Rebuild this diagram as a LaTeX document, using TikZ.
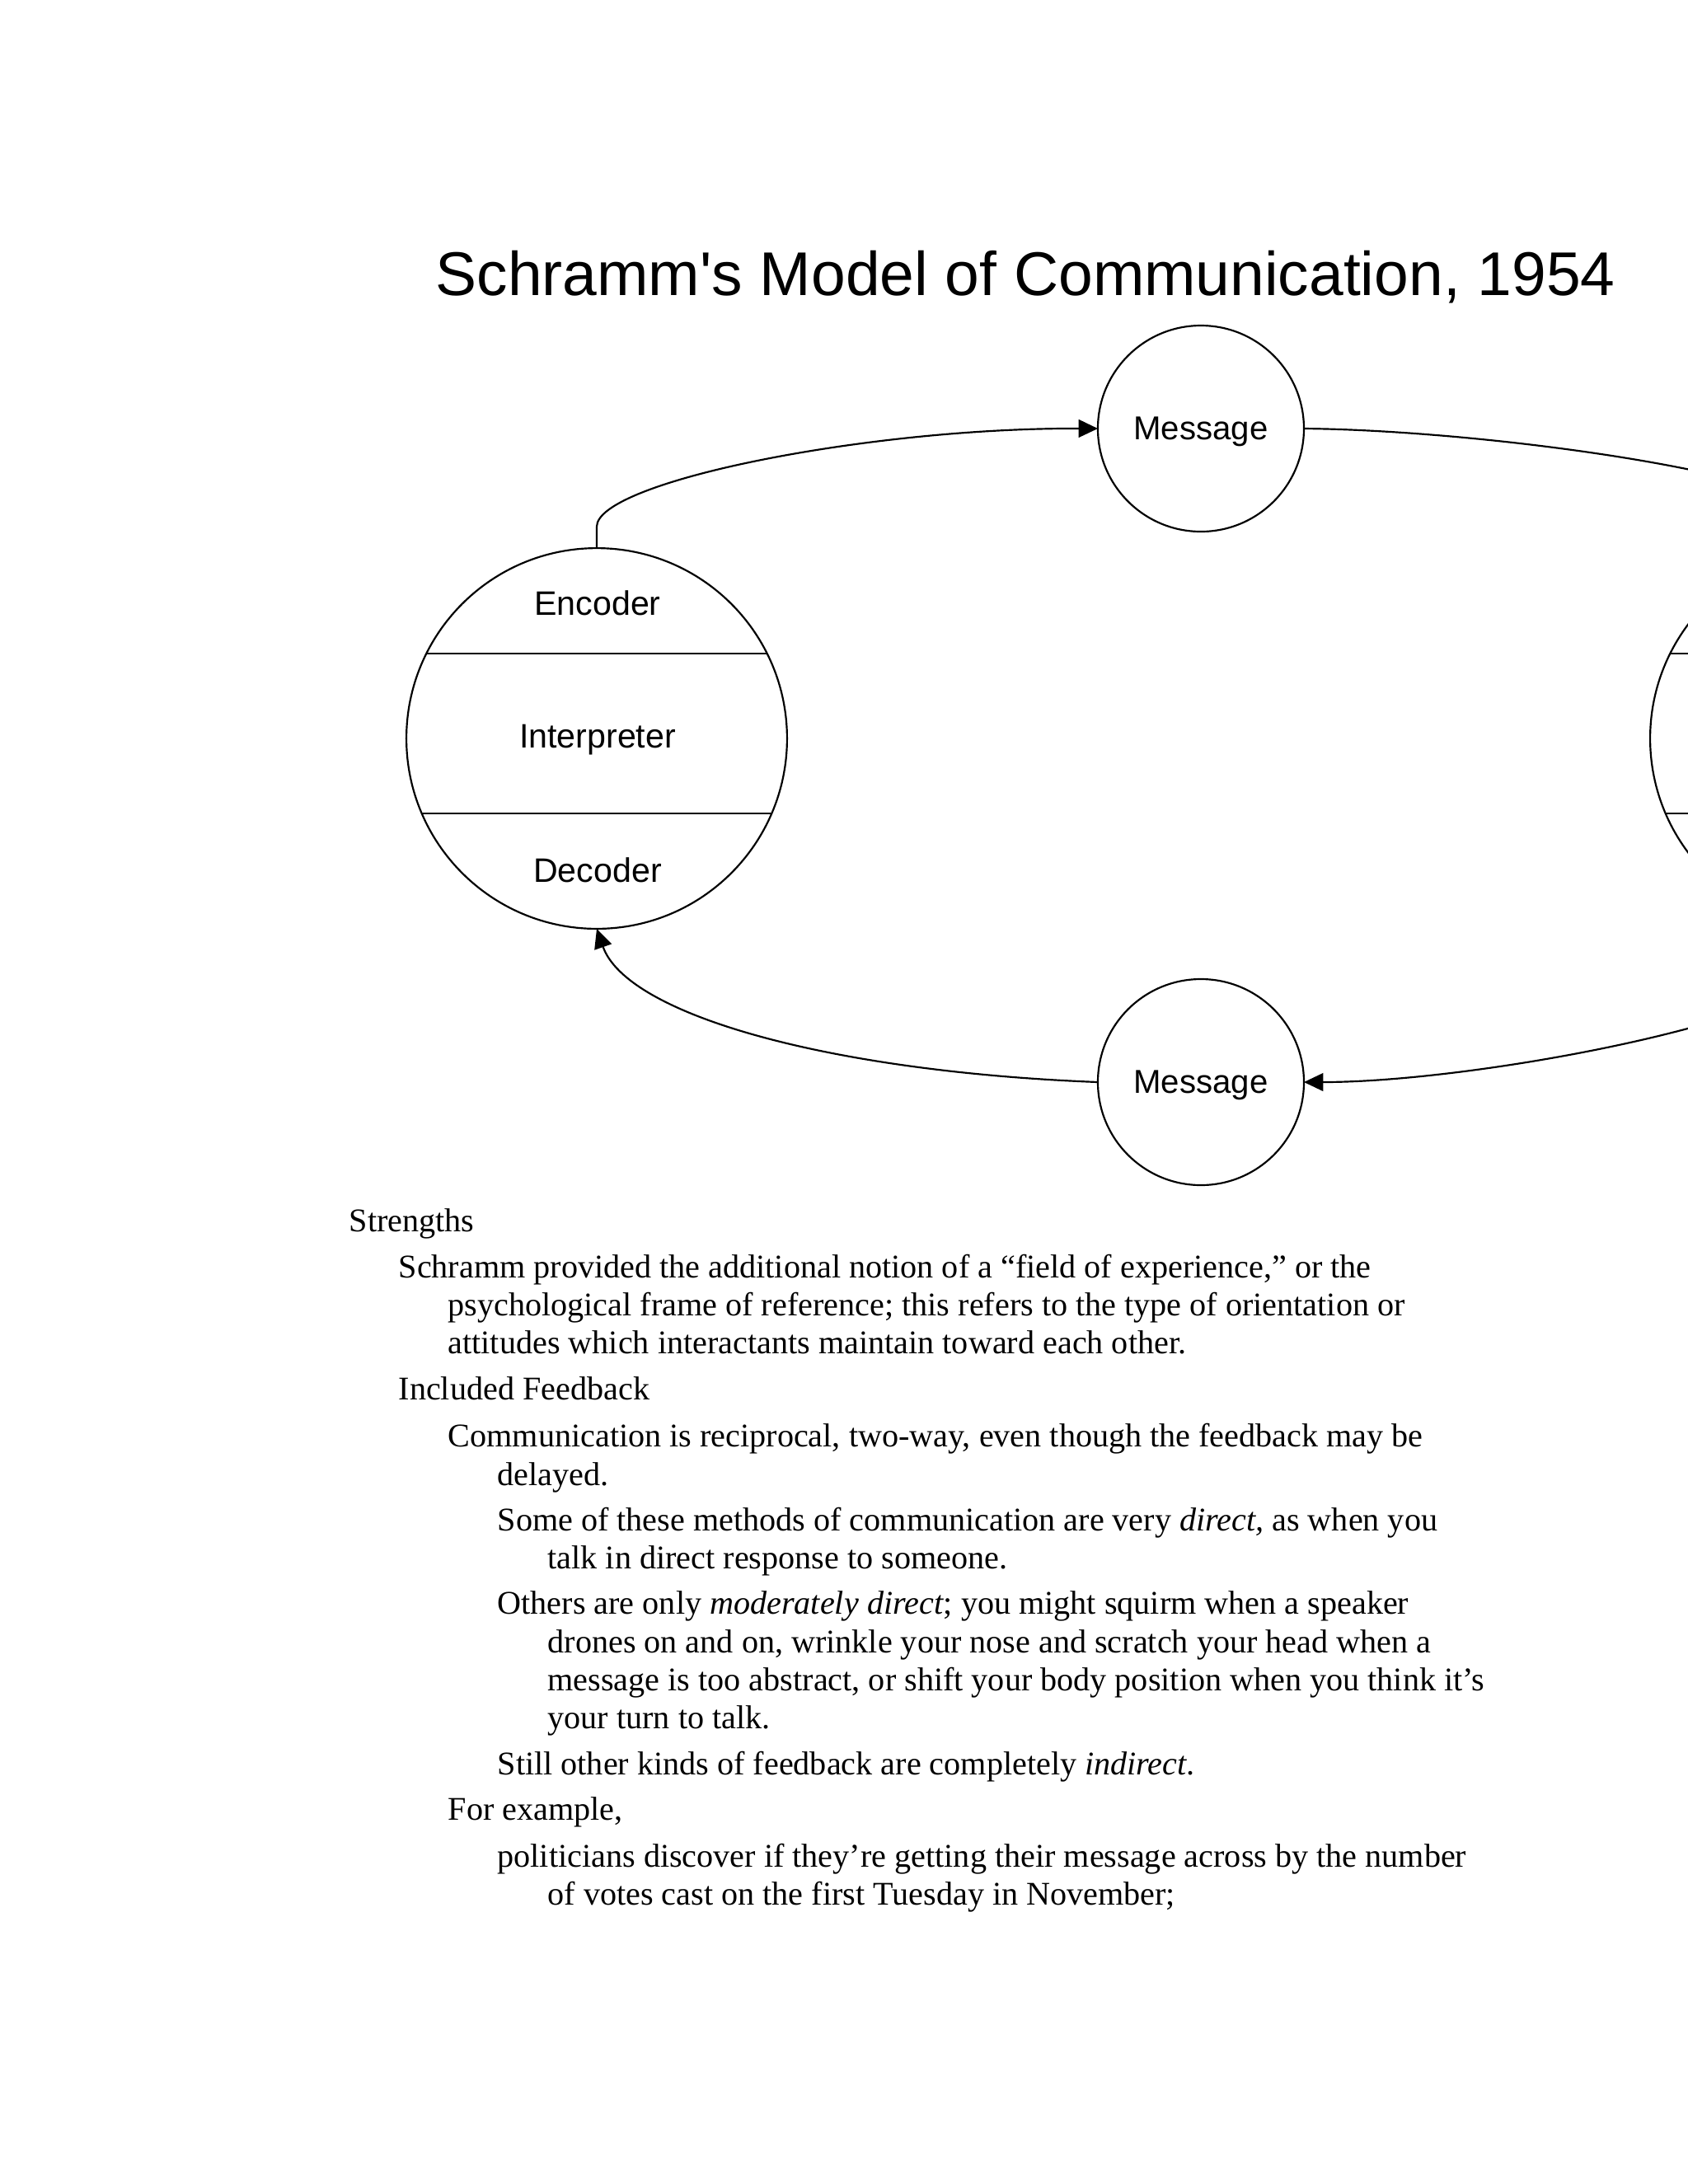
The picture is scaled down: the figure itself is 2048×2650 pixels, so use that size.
\documentclass[tikz,border=0pt]{standalone}
\usepackage{fontspec}
\newfontfamily\arialf{Liberation Sans}
\newfontfamily\timesf{Liberation Serif}
\usetikzlibrary{arrows.meta,calc}
\tikzset{
  unit/.style={circle,draw,line width=0.65pt,outer sep=0pt,inner sep=0pt},
  msg/.style={unit,minimum size=74.7pt,text depth=0pt,font=\arialf\fontsize{12}{14}\selectfont},
  big/.style={unit,minimum size=138pt},
  lbl/.style={anchor=base,inner sep=0pt,font=\arialf\fontsize{12.3}{14}\selectfont},
  conn/.style={line width=0.65pt},
  arr/.style={conn,-{Triangle[length=7pt,width=6.5pt]}},
  txt/.style={anchor=base west,inner sep=0pt,font=\timesf\fontsize{12}{14}\selectfont},
}
\begin{document}
\begin{tikzpicture}[x=0.2988pt,y=-0.2988pt]
\useasboundingbox (0,0) rectangle (2048,2650);
\clip (0,0) rectangle (2048,2650);
% title
\node[anchor=base west,inner sep=0pt,font=\arialf\fontsize{22.4}{26}\selectfont] (title) at (528,358) {Schramm's Model of Communication, 1954};
% circles
\node[msg] (m1) at (1457,520) {Message};
\node[msg] (m2) at (1457,1313) {Message};
\node[big] (sender) at (724,896) {};
\node[big] (receiver) at (2233,896) {};
% dividing lines
\draw[conn] ([shift={(-206.8,-103)}]sender.center) -- ([shift={(206.8,-103)}]sender.center);
\draw[conn] ([shift={(-212.3,91)}]sender.center) -- ([shift={(212.3,91)}]sender.center);
\draw[conn] ([shift={(-206.8,-103)}]receiver.center) -- ([shift={(206.8,-103)}]receiver.center);
\draw[conn] ([shift={(-212.3,91)}]receiver.center) -- ([shift={(212.3,91)}]receiver.center);
% labels
\node[lbl] (enc) at (725,746) {Encoder};
\node[lbl] (int) at (725,907) {Interpreter};
\node[lbl] (dec) at (725,1070) {Decoder};
% connectors
\draw[arr] (sender.north) -- ++(0,-26) .. controls (724,585) and (1050,519) .. (m1.west);
\draw[conn] (m1.east) .. controls (1800,522) and (2200,575) .. ($(receiver.north)+(0,-25)$) -- (receiver.north);
\draw[arr] (receiver.south) -- ++(0,25) .. controls (2233,1230) and (1800,1313) .. (m2.east);
\draw[arr] (m2.west) .. controls (1000,1300) and (760,1230) .. (sender.south);
% text
\node[txt] (t1) at (423,1494) {Strengths};
\node[txt] (t2) at (483,1550) {Schramm provided the additional notion of a “field of experience,” or the};
\node[txt] (t3) at (543,1596) {psychological frame of reference; this refers to the type of orientation or};
\node[txt] (t4) at (543,1642) {attitudes which interactants maintain toward each other.};
\node[txt] (t5) at (483,1698) {Included Feedback};
\node[txt] (t6) at (543,1755) {Communication is reciprocal, two-way, even though the feedback may be};
\node[txt] (t7) at (603,1802) {delayed.};
\node[txt] (t8) at (603,1857) {Some of these methods of communication are very \textit{direct,} as when you};
\node[txt] (t9) at (664,1903) {talk in direct response to someone.};
\node[txt] (t10) at (603,1958) {Others are only \textit{moderately direct}; you might squirm when a speaker};
\node[txt] (t11) at (664,2005) {drones on and on, wrinkle your nose and scratch your head when a};
\node[txt] (t12) at (664,2051) {message is too abstract, or shift your body position when you think it’s};
\node[txt] (t13) at (664,2097) {your turn to talk.};
\node[txt] (t14) at (603,2153) {Still other kinds of feedback are completely \textit{indirect}.};
\node[txt] (t15) at (543,2208) {For example,};
\node[txt] (t16) at (603,2265) {politicians discover if they’re getting their message across by the number};
\node[txt] (t17) at (664,2311) {of votes cast on the first Tuesday in November;};
\end{tikzpicture}
\end{document}
